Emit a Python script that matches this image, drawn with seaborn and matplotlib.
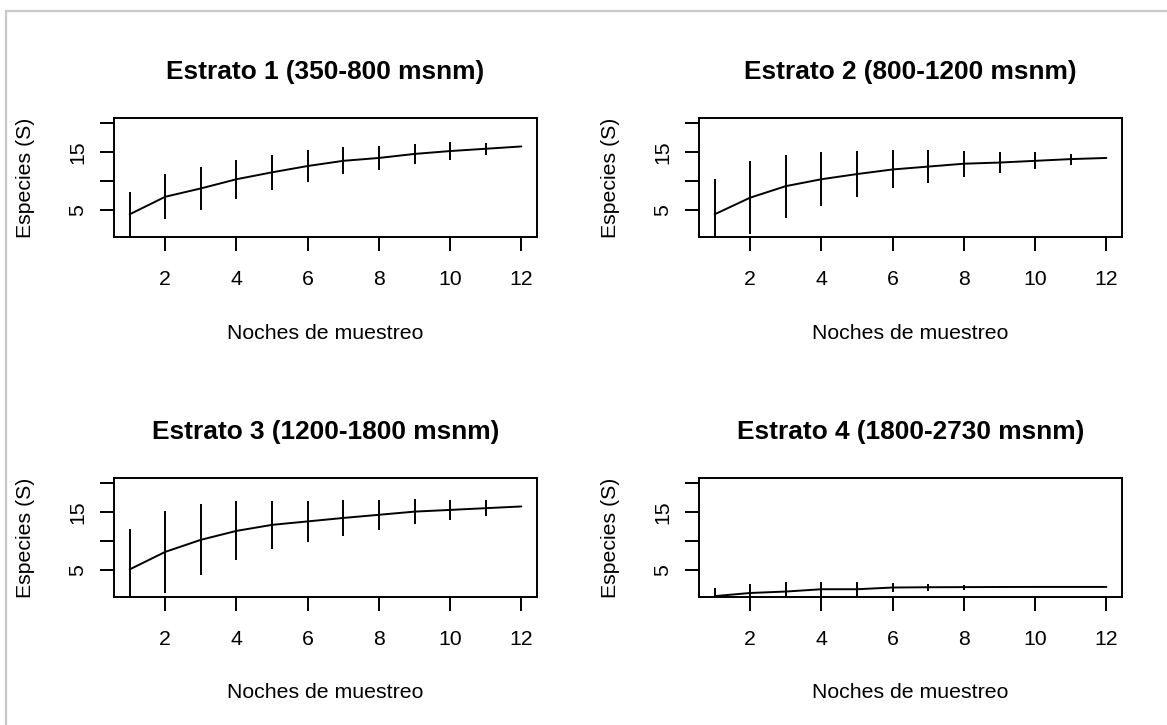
import matplotlib
matplotlib.use("Agg")
import matplotlib.pyplot as plt
from matplotlib.lines import Line2D
import numpy as np
import pandas as pd
import seaborn as sns

# Species accumulation curves per altitude stratum
noches = list(range(1, 13))

titulos = [
    "Estrato 1 (350-800 msnm)",
    "Estrato 2 (800-1200 msnm)",
    "Estrato 3 (1200-1800 msnm)",
    "Estrato 4 (1800-2730 msnm)",
]

riqueza_e1 = [4.2, 7.25, 8.7, 10.3, 11.5, 12.6, 13.5, 14.0, 14.7, 15.2, 15.6, 16.0]
de_e1 = [3.9, 3.95, 3.75, 3.4, 3.1, 2.7, 2.35, 2.1, 1.8, 1.55, 1.05, 0.0]

riqueza_e2 = [4.2, 7.1, 9.1, 10.3, 11.2, 12.0, 12.5, 13.0, 13.2, 13.5, 13.8, 14.0]
de_e2 = [6.15, 6.3, 5.5, 4.7, 4.0, 3.3, 2.8, 2.25, 1.8, 1.45, 0.95, 0.0]

riqueza_e3 = [5.05, 8.1, 10.2, 11.75, 12.8, 13.4, 14.0, 14.55, 15.1, 15.4, 15.7, 16.0]
de_e3 = [6.95, 7.1, 6.2, 5.15, 4.2, 3.55, 3.15, 2.6, 2.2, 1.8, 1.4, 0.0]

riqueza_e4 = [0.4, 0.95, 1.2, 1.6, 1.6, 1.9, 1.95, 1.97, 1.99, 2.0, 2.0, 2.0]
de_e4 = [1.5, 1.52, 1.58, 1.18, 1.18, 0.7, 0.6, 0.45, 0.25, 0.0, 0.0, 0.0]

riquezas = [riqueza_e1, riqueza_e2, riqueza_e3, riqueza_e4]
desvios = [de_e1, de_e2, de_e3, de_e4]

x_ticks = [2, 4, 6, 8, 10, 12]
y_ticks = [5, 10, 15, 20]
y_ticklabels = ["5", "", "15", ""]

sns.set_theme(style="white")
plt.rcParams["font.family"] = ["Liberation Sans", "DejaVu Sans"]
plt.rcParams["axes.linewidth"] = 1.4

W, H = 1167, 725
fig = plt.figure(figsize=(W / 100, H / 100), dpi=100)
fig.patch.set_facecolor("white")

# panel boxes in pixels: (left, top, right, bottom)
cajas = [
    (114, 118, 537, 237),
    (699, 118, 1122, 237),
    (114, 478, 537, 597),
    (699, 478, 1122, 597),
]

for titulo, s, de, (l, t, r, b) in zip(titulos, riquezas, desvios, cajas):
    ax = fig.add_axes([l / W, 1 - b / H, (r - l) / W, (b - t) / H])
    df = pd.DataFrame({"noche": noches, "S": s, "sd": de})
    sns.lineplot(data=df, x="noche", y="S", ax=ax, color="black", lw=1.4)
    lo = df["S"] - df["sd"]
    hi = df["S"] + df["sd"]
    m = df["sd"] > 0
    ax.vlines(df["noche"][m], lo[m], hi[m], color="black", lw=1.4)

    ax.set_xlim(0.56, 12.44)
    ax.set_ylim(0.25, 20.95)
    ax.set_xticks(x_ticks)
    ax.set_xticklabels([str(v) for v in x_ticks])
    ax.set_yticks(y_ticks)
    ax.set_yticklabels(y_ticklabels, rotation=90, va="center", ha="right")
    ax.tick_params(axis="both", direction="out", length=10, width=1.4,
                   color="black", labelsize=15.3, labelcolor="black")
    ax.tick_params(axis="x", pad=13.5, bottom=True)
    ax.tick_params(axis="y", pad=9, left=True)
    for sp in ax.spines.values():
        sp.set_visible(True)
        sp.set_color("black")
        sp.set_linewidth(1.4)

    ax.set_title(titulo, fontsize=18.9, fontweight="bold", pad=28, color="black")
    ax.set_xlabel("Noches de muestreo", fontsize=15.3, color="black")
    ax.set_ylabel("Especies (S)", fontsize=15.3, color="black")
    ax.xaxis.label.set_va("center")
    ax.yaxis.label.set_va("center")
    ax.xaxis.set_label_coords(0.5, -96 / (b - t))
    ax.yaxis.set_label_coords(-88 / (r - l), 0.5)

# light grey frame along top and left edges
fig.add_artist(Line2D([5.5 / W, 1], [1 - 10.5 / H, 1 - 10.5 / H],
                      transform=fig.transFigure, color="#c8c8c8", lw=1.6))
fig.add_artist(Line2D([5.5 / W, 5.5 / W], [0, 1 - 10.5 / H],
                      transform=fig.transFigure, color="#c8c8c8", lw=1.6))

fig.savefig("out.png", dpi=100, facecolor="white")
